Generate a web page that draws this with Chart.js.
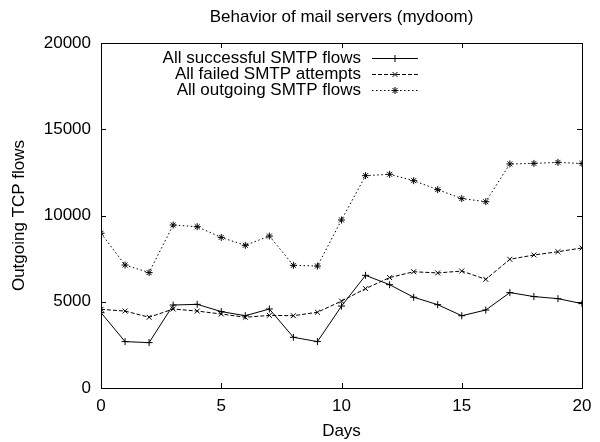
<!DOCTYPE html>
<html>
<head>
<meta charset="utf-8">
<script src="https://cdn.jsdelivr.net/npm/chart.js@4/dist/chart.umd.min.js"></script>
<style>
html,body{margin:0;padding:0;background:#fff;}
canvas{display:block;}
</style>
</head>
<body>
<canvas id="c" width="600" height="442"></canvas>
<script>
const chartTitle = "Behavior of mail servers (mydoom)";
const xTitle = "Days";
const yTitle = "Outgoing TCP flows";
const days = [0,1,2,3,4,5,6,7,8,9,10,11,12,13,14,15,16,17,18,19,20];
const seriesNames = ["All successful SMTP flows", "All failed SMTP attempts", "All outgoing SMTP flows"];
const successful = [4370, 2690, 2630, 4810, 4850, 4430, 4190, 4580, 2940, 2690, 4750, 6530, 5990, 5260, 4830, 4190, 4520, 5530, 5300, 5180, 4890];
const failed = [4560, 4460, 4100, 4580, 4460, 4290, 4100, 4210, 4190, 4390, 5040, 5760, 6400, 6740, 6670, 6780, 6300, 7460, 7710, 7900, 8120];
const outgoing = [8970, 7130, 6690, 9450, 9350, 8730, 8270, 8810, 7110, 7070, 9740, 12310, 12390, 12020, 11500, 10980, 10800, 12990, 13020, 13080, 13010];
const xTicks = [0, 5, 10, 15, 20];
const yTicks = [0, 5000, 10000, 15000, 20000];

const FONT = "'Liberation Sans', Arial, Helvetica, sans-serif";
const FS = 17;
const toXY = arr => days.map((d, i) => ({x: d, y: arr[i]}));

const styles = [
  {dash: [], pointStyle: 'cross', r: 3.5},
  {dash: [4, 2], pointStyle: 'crossRot', r: 3.5},
  {dash: [1.5, 2.5], pointStyle: 'star', r: 3.5}
];
const values = [successful, failed, outgoing];

const datasets = values.map((v, i) => ({
  label: seriesNames[i],
  data: toXY(v),
  borderColor: '#000',
  backgroundColor: '#000',
  borderWidth: 1,
  borderDash: styles[i].dash,
  pointStyle: styles[i].pointStyle,
  pointRadius: styles[i].r,
  pointBorderWidth: 1,
  pointBorderColor: '#000',
  tension: 0,
  fill: false
}));

const framePlugin = {
  id: 'frame',
  afterDraw(chart) {
    const ctx = chart.ctx;
    const a = chart.chartArea;
    const xs = chart.scales.x, ys = chart.scales.y;
    ctx.save();
    ctx.strokeStyle = '#000';
    ctx.lineWidth = 1;
    ctx.setLineDash([]);
    ctx.strokeRect(Math.round(a.left) + 0.5, Math.round(a.top) + 0.5, Math.round(a.right - a.left), Math.round(a.bottom - a.top));
    const L = 5;
    ctx.beginPath();
    xTicks.forEach(t => {
      const px = Math.round(xs.getPixelForValue(t)) + 0.5;
      ctx.moveTo(px, a.bottom); ctx.lineTo(px, a.bottom - L);
      ctx.moveTo(px, a.top); ctx.lineTo(px, a.top + L);
    });
    yTicks.forEach(t => {
      const py = Math.round(ys.getPixelForValue(t)) + 0.5;
      ctx.moveTo(a.left, py); ctx.lineTo(a.left + L, py);
      ctx.moveTo(a.right, py); ctx.lineTo(a.right - L, py);
    });
    ctx.stroke();

    // title centered over plot area
    ctx.fillStyle = '#000';
    ctx.font = FS + 'px ' + FONT;
    ctx.textAlign = 'center';
    ctx.textBaseline = 'middle';
    ctx.fillText(chartTitle, (a.left + a.right) / 2, 17);

    // legend (gnuplot style: text right aligned, sample to the right)
    const rows = [58, 74, 90];
    chart.data.datasets.forEach((ds, i) => {
      const y = rows[i];
      ctx.textAlign = 'right';
      ctx.textBaseline = 'middle';
      ctx.fillText(ds.label, 361, y);
      ctx.beginPath();
      ctx.setLineDash(ds.borderDash);
      ctx.moveTo(372, y + 0.5); ctx.lineTo(418, y + 0.5);
      ctx.stroke();
      ctx.setLineDash([]);
      Chart.helpers.drawPoint(ctx, {pointStyle: ds.pointStyle, radius: ds.pointRadius, rotation: 0, borderWidth: 1}, 395, y + 0.5);
    });
    ctx.restore();
  }
};

new Chart(document.getElementById('c'), {
  type: 'line',
  data: {datasets},
  options: {
    responsive: false,
    devicePixelRatio: 1,
    animation: false,
    layout: {padding: {top: 43, right: 18, left: 0, bottom: 0}},
    plugins: {legend: {display: false}, title: {display: false}, tooltip: {enabled: false}},
    scales: {
      x: {
        type: 'linear', min: 0, max: 20,
        afterBuildTicks: s => { s.ticks = xTicks.map(v => ({value: v})); },
        afterFit: s => { s.height = 54; },
        grid: {display: false, drawTicks: false},
        border: {display: false},
        ticks: {color: '#000', font: {size: FS, family: FONT}, padding: 8, maxRotation: 0},
        title: {display: true, text: xTitle, color: '#000', font: {size: FS, family: FONT}, padding: {top: 0, bottom: 0}}
      },
      y: {
        type: 'linear', min: 0, max: 20000,
        afterBuildTicks: s => { s.ticks = yTicks.map(v => ({value: v})); },
        afterFit: s => { s.width = 101; },
        grid: {display: false, drawTicks: false},
        border: {display: false},
        ticks: {color: '#000', font: {size: FS, family: FONT}, padding: 10, callback: v => String(v)},
        title: {display: true, text: yTitle, color: '#000', font: {size: FS, family: FONT}, padding: {top: 9, bottom: 0}}
      }
    }
  },
  plugins: [framePlugin]
});
</script>
</body>
</html>
